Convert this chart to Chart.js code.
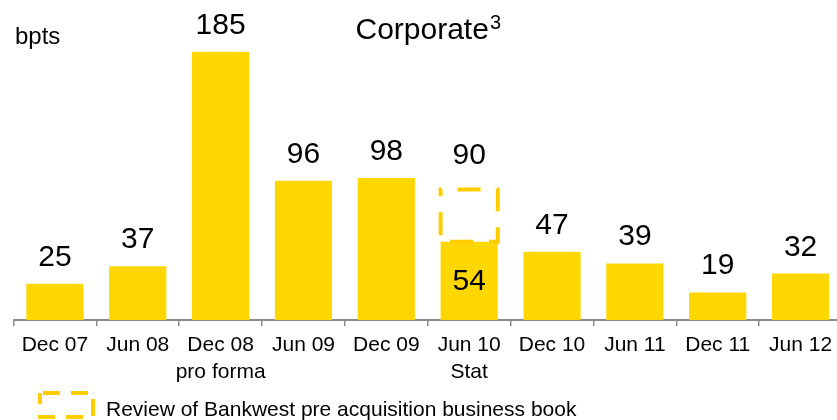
<!DOCTYPE html>
<html>
<head>
<meta charset="utf-8">
<script src="https://cdn.jsdelivr.net/npm/chart.js@4.4.1/dist/chart.umd.min.js"></script>
<style>
  html, body { margin: 0; padding: 0; background: #ffffff; overflow: hidden; }
  #wrap { position: relative; width: 845px; height: 420px; }
</style>
</head>
<body>
<div id="wrap"><canvas id="c"></canvas></div>
<script>
// ---- data ----
const categories = [["Dec 07"], ["Jun 08"], ["Dec 08", "pro forma"], ["Jun 09"], ["Dec 09"], ["Jun 10", "Stat"], ["Dec 10"], ["Jun 11"], ["Dec 11"], ["Jun 12"]];
const statValues = [25, 37, 185, 96, 98, 54, 47, 39, 19, 32];
const reviewTotals = [null, null, null, null, null, 90, null, null, null, null];
const titleText = "Corporate";
const titleSup = "3";
const unitLabel = "bpts";
const legendLabel = "Review of Bankwest pre acquisition business book";

const reviewExtra = reviewTotals.map((t, i) => (t == null ? null : t - statValues[i]));

const FONT = "'Liberation Sans', Arial, Helvetica, sans-serif";
const BAR = "#FFD700";
const DASH = "#FFCC00";

const overlay = {
  id: "overlay",
  afterDatasetsDraw(chart) {
    const ctx = chart.ctx;
    const solid = chart.getDatasetMeta(0).data;
    const extra = chart.getDatasetMeta(1).data;
    ctx.save();
    // dashed outlines for review portion
    extra.forEach((el, i) => {
      if (reviewExtra[i] == null) return;
      const p = el.getProps(["x", "y", "base", "width"], true);
      ctx.strokeStyle = DASH;
      ctx.lineWidth = 4;
      ctx.setLineDash([23, 16]);
      ctx.lineDashOffset = -17;
      ctx.strokeRect(p.x - p.width / 2, p.y, p.width, p.base - p.y);
    });
    ctx.setLineDash([]);
    // value labels
    ctx.fillStyle = "#000";
    ctx.font = "30px " + FONT;
    ctx.textAlign = "center";
    solid.forEach((el, i) => {
      const p = el.getProps(["x", "y", "base"], true);
      if (reviewExtra[i] != null) {
        ctx.textBaseline = "middle";
        ctx.fillText(String(statValues[i]), p.x, (p.y + p.base) / 2 + 1);
        const e = extra[i].getProps(["x", "y"], true);
        ctx.textBaseline = "alphabetic";
        ctx.fillText(String(reviewTotals[i]), e.x, e.y - 26);
      } else {
        ctx.textBaseline = "alphabetic";
        ctx.fillText(String(statValues[i]), p.x, p.y - 18);
      }
    });
    // title with superscript
    ctx.textAlign = "left";
    ctx.textBaseline = "alphabetic";
    ctx.font = "30px " + FONT;
    const tw = ctx.measureText(titleText).width;
    ctx.font = "20px " + FONT;
    const sw = ctx.measureText(titleSup).width;
    const cx = (chart.chartArea.left + chart.chartArea.right) / 2;
    const tx = cx - (tw + sw) / 2;
    ctx.font = "30px " + FONT;
    ctx.fillText(titleText, tx, 39);
    ctx.font = "20px " + FONT;
    ctx.fillText(titleSup, tx + tw + 1, 29);
    // unit label
    ctx.font = "24px " + FONT;
    ctx.fillText(unitLabel, 15, 44);
    // legend
    ctx.strokeStyle = DASH;
    ctx.lineWidth = 4;
    ctx.setLineDash([17, 11]);
    ctx.lineDashOffset = -3;
    ctx.strokeRect(40, 393, 53, 24);
    ctx.setLineDash([]);
    ctx.font = "21px " + FONT;
    ctx.fillStyle = "#000";
    ctx.fillText(legendLabel, 106, 416);
    ctx.restore();
  }
};

new Chart(document.getElementById("c"), {
  type: "bar",
  data: {
    labels: categories,
    datasets: [
      { data: statValues, backgroundColor: BAR, borderWidth: 0, categoryPercentage: 1, barPercentage: 0.69 },
      { data: reviewExtra, backgroundColor: "rgba(0,0,0,0)", borderWidth: 0, categoryPercentage: 1, barPercentage: 0.69 }
    ]
  },
  options: {
    responsive: true,
    maintainAspectRatio: false,
    animation: false,
    devicePixelRatio: 1,
    layout: { padding: { left: 13.5, right: 3, top: 30, bottom: 0 } },
    plugins: { legend: { display: false }, title: { display: false }, tooltip: { enabled: false } },
    scales: {
      x: {
        stacked: true,
        offset: true,
        grid: { display: true, offset: true, drawOnChartArea: false, drawTicks: true, tickLength: 6, color: "#8c8c8c", lineWidth: 1.5 },
        border: { display: true, color: "#8c8c8c", width: 2 },
        ticks: { color: "#000", font: { family: FONT, size: 21, lineHeight: 1.29 }, maxRotation: 0, minRotation: 0, autoSkip: false, padding: 6 },
        afterFit(scale) { scale.height = 100; }
      },
      y: {
        stacked: true,
        display: false,
        min: 0,
        max: 200
      }
    }
  },
  plugins: [overlay]
});
</script>
</body>
</html>
